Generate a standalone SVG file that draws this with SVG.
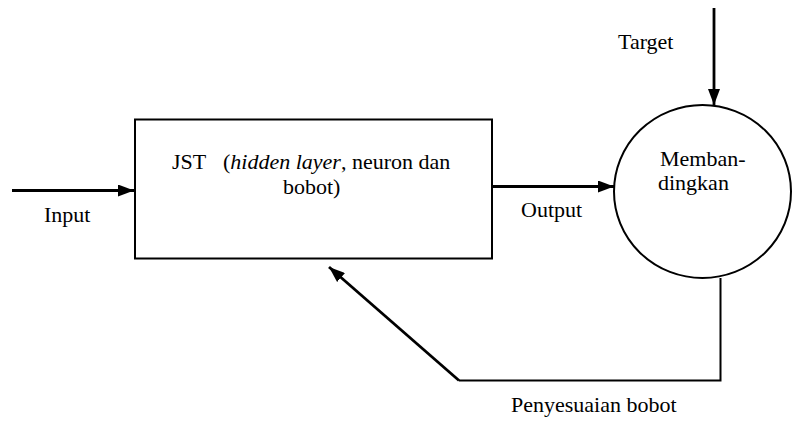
<svg xmlns="http://www.w3.org/2000/svg" width="792" height="421" viewBox="0 0 792 421">
<defs>
<style>
text{font-family:"Liberation Serif","Times New Roman",serif;font-size:22px;fill:#000}
.shape{fill:#fff;stroke:#000;stroke-width:2}
.conn{fill:none;stroke:#000;stroke-width:2.8}
.thin{fill:none;stroke:#000;stroke-width:2}
</style>
<marker id="ah" viewBox="0 0 16 12" refX="16" refY="6" markerWidth="16" markerHeight="12" markerUnits="userSpaceOnUse" orient="auto">
<path d="M0,0 L16,6 L0,12 Z" fill="#000"/>
</marker>
</defs>
<g id="node-jst">
<rect class="shape" x="135" y="119.5" width="357" height="139"/>
<text x="172" y="169">JST</text>
<text x="223" y="169">(<tspan font-style="italic">hidden layer</tspan>, neuron dan</text>
<text x="283" y="194">bobot)</text>
</g>
<g id="node-membandingkan">
<ellipse class="shape" cx="702.5" cy="191.5" rx="88.5" ry="86.5"/>
<text x="660" y="165.5" font-size="21">Memban-</text>
<text x="658" y="190" font-size="21">dingkan</text>
</g>
<g id="connectors">
<line class="conn" x1="12" y1="190.5" x2="134" y2="190.5" marker-end="url(#ah)"/>
<line class="conn" x1="492" y1="186.5" x2="614" y2="186.5" marker-end="url(#ah)"/>
<line class="conn" x1="714" y1="8" x2="714" y2="105" marker-end="url(#ah)"/>
<polyline class="thin" points="720.5,278 720.5,380.5 459,380.5"/>
<line class="conn" x1="459" y1="380.5" x2="329" y2="267" marker-end="url(#ah)"/>
</g>
<g id="labels">
<text x="44" y="222">Input</text>
<text x="618" y="49">Target</text>
<text x="521" y="217">Output</text>
<text x="511" y="412">Penyesuaian bobot</text>
</g>
</svg>
